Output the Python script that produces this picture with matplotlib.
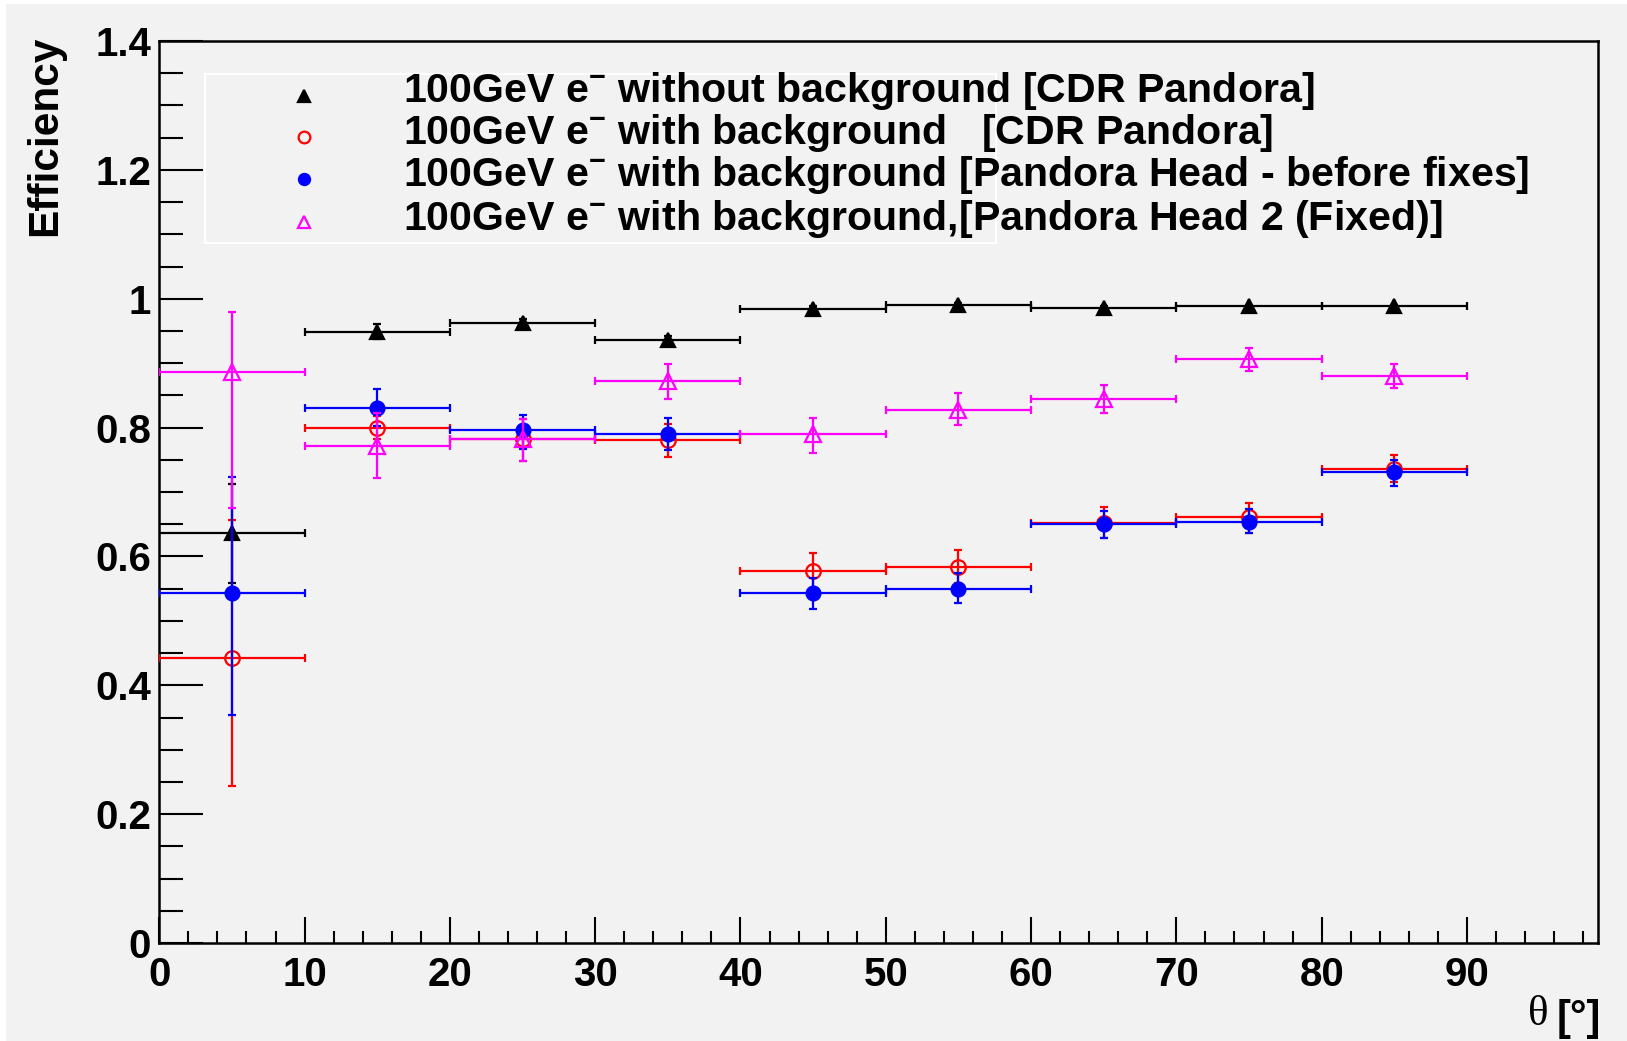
import matplotlib
matplotlib.use("Agg")
import matplotlib.pyplot as plt
from matplotlib.lines import Line2D
from matplotlib.patches import Rectangle
import numpy as np

plt.rcParams['font.family'] = ['Liberation Sans', 'DejaVu Sans']
plt.rcParams['mathtext.fontset'] = 'custom'
plt.rcParams['mathtext.rm'] = 'Liberation Sans:bold'
plt.rcParams['mathtext.bf'] = 'Liberation Sans:bold'
plt.rcParams['mathtext.it'] = 'Liberation Sans:bold'

# ---------------- data ----------------
theta = [5, 15, 25, 35, 45, 55, 65, 75, 85]
theta_halfwidth = [5, 5, 5, 5, 5, 5, 5, 5, 5]

eff_nobg_cdr = [0.636, 0.949, 0.963, 0.936, 0.984, 0.990, 0.985, 0.988, 0.988]
err_lo_nobg_cdr = [0.077, 0.012, 0.006, 0.006, 0.004, 0.003, 0.004, 0.003, 0.003]
err_hi_nobg_cdr = [0.076, 0.011, 0.005, 0.006, 0.004, 0.003, 0.004, 0.003, 0.003]

eff_bg_cdr = [0.443, 0.800, 0.783, 0.780, 0.577, 0.584, 0.652, 0.661, 0.736]
err_lo_bg_cdr = [0.199, 0.018, 0.035, 0.025, 0.028, 0.026, 0.024, 0.025, 0.021]
err_hi_bg_cdr = [0.214, 0.018, 0.030, 0.025, 0.028, 0.026, 0.024, 0.022, 0.022]

eff_bg_head = [0.544, 0.831, 0.796, 0.790, 0.543, 0.550, 0.650, 0.653, 0.731]
err_lo_bg_head = [0.190, 0.029, 0.029, 0.025, 0.025, 0.023, 0.021, 0.017, 0.021]
err_hi_bg_head = [0.179, 0.029, 0.023, 0.025, 0.024, 0.025, 0.020, 0.021, 0.019]

eff_bg_head2 = [0.887, 0.772, 0.783, 0.872, 0.790, 0.828, 0.844, 0.906, 0.880]
err_lo_bg_head2 = [0.212, 0.050, 0.035, 0.027, 0.029, 0.024, 0.021, 0.018, 0.019]
err_hi_bg_head2 = [0.092, 0.050, 0.030, 0.027, 0.025, 0.025, 0.022, 0.017, 0.019]

labels = [
    r'100GeV e$^{-}$ without background [CDR Pandora]',
    r'100GeV e$^{-}$ with background   [CDR Pandora]',
    r'100GeV e$^{-}$ with background [Pandora Head - before fixes]',
    r'100GeV e$^{-}$ with background,[Pandora Head 2 (Fixed)]',
]

W, H = 1627, 1041
bg = '#f2f2f2'
fig = plt.figure(figsize=(W / 100, H / 100), dpi=100, facecolor='white')
fig.patches.append(Rectangle((6 / W, 0), 1 - 6 / W, 1 - 4 / H, transform=fig.transFigure,
                             facecolor=bg, edgecolor='none', zorder=-10))

ax = fig.add_axes([159.3 / W, 1 - 943 / H, (1597.7 - 159.3) / W, (943 - 41) / H])
ax.set_facecolor(bg)
ax.set_xlim(0, 99)
ax.set_ylim(0, 1.4)

series = [
    (eff_nobg_cdr, err_lo_nobg_cdr, err_hi_nobg_cdr, 'black', '^', 'black', 10),
    (eff_bg_cdr, err_lo_bg_cdr, err_hi_bg_cdr, '#ff0000', 'o', 'none', 10.5),
    (eff_bg_head, err_lo_bg_head, err_hi_bg_head, '#0000ff', 'o', '#0000ff', 10),
    (eff_bg_head2, err_lo_bg_head2, err_hi_bg_head2, '#ff00ff', '^', 'none', 11),
]
for i, (y, lo, hi, c, m, fc, ms) in enumerate(series):
    ax.errorbar(theta, y, xerr=theta_halfwidth, yerr=[lo, hi], fmt=m, color=c,
                mfc=fc, mec=c, ms=ms, mew=1.6, elinewidth=1.6, capsize=3, capthick=1.6,
                zorder=3 + i)

for s in ax.spines.values():
    s.set_linewidth(1.8)
ax.set_xticks(np.arange(0, 91, 10))
ax.set_xticks(np.arange(0, 99, 2), minor=True)
ax.set_yticks(np.arange(0, 1.41, 0.2))
ax.set_yticks(np.arange(0, 1.41, 0.05), minor=True)
ax.set_yticklabels(['0', '0.2', '0.4', '0.6', '0.8', '1', '1.2', '1.4'])
ax.tick_params(axis='both', which='both', direction='in', top=False, right=False, width=1.5)
ax.tick_params(axis='y', which='major', length=32, pad=6, labelsize=29)
ax.tick_params(axis='y', which='minor', length=17)
ax.tick_params(axis='x', which='major', length=19, pad=9.5, labelsize=29)
ax.tick_params(axis='x', which='minor', length=9)
for lab in ax.get_xticklabels() + ax.get_yticklabels():
    lab.set_fontweight('bold')

fig.text(45 / W, 1 - 36 / H, 'Efficiency', rotation=90, ha='center', va='top',
         fontsize=30.5, fontweight='bold')
fig.text(1601 / W, 1 - 1019 / H, '[°]', ha='right', va='center', fontsize=30, fontweight='bold')
fig.text(1549 / W, 1 - 1015 / H, 'θ', ha='right', va='center', fontsize=31,
         family=['Liberation Serif', 'DejaVu Serif'])

# legend
fig.patches.append(Rectangle((205 / W, 1 - 243 / H), (996 - 205) / W, (243 - 74) / H,
                             transform=fig.transFigure, facecolor=bg, edgecolor='white',
                             lw=1.5, zorder=5))
rows_marker = [96, 137, 179, 222]
rows_text = [91, 133, 175, 219]
for (y, lo, hi, c, m, fc, ms), lab, ym, yt in zip(series, labels, rows_marker, rows_text):
    fig.add_artist(Line2D([304 / W], [1 - ym / H], marker=m, color=c, mfc=fc, mec=c,
                          ms=ms * 0.8, mew=1.6, ls='none', transform=fig.transFigure, zorder=6))
    fig.text(402.6 / W, 1 - yt / H, lab, ha='left', va='center', fontsize=29.6,
             fontweight='bold', zorder=7)

fig.savefig('out.png', dpi=100, facecolor='white')
